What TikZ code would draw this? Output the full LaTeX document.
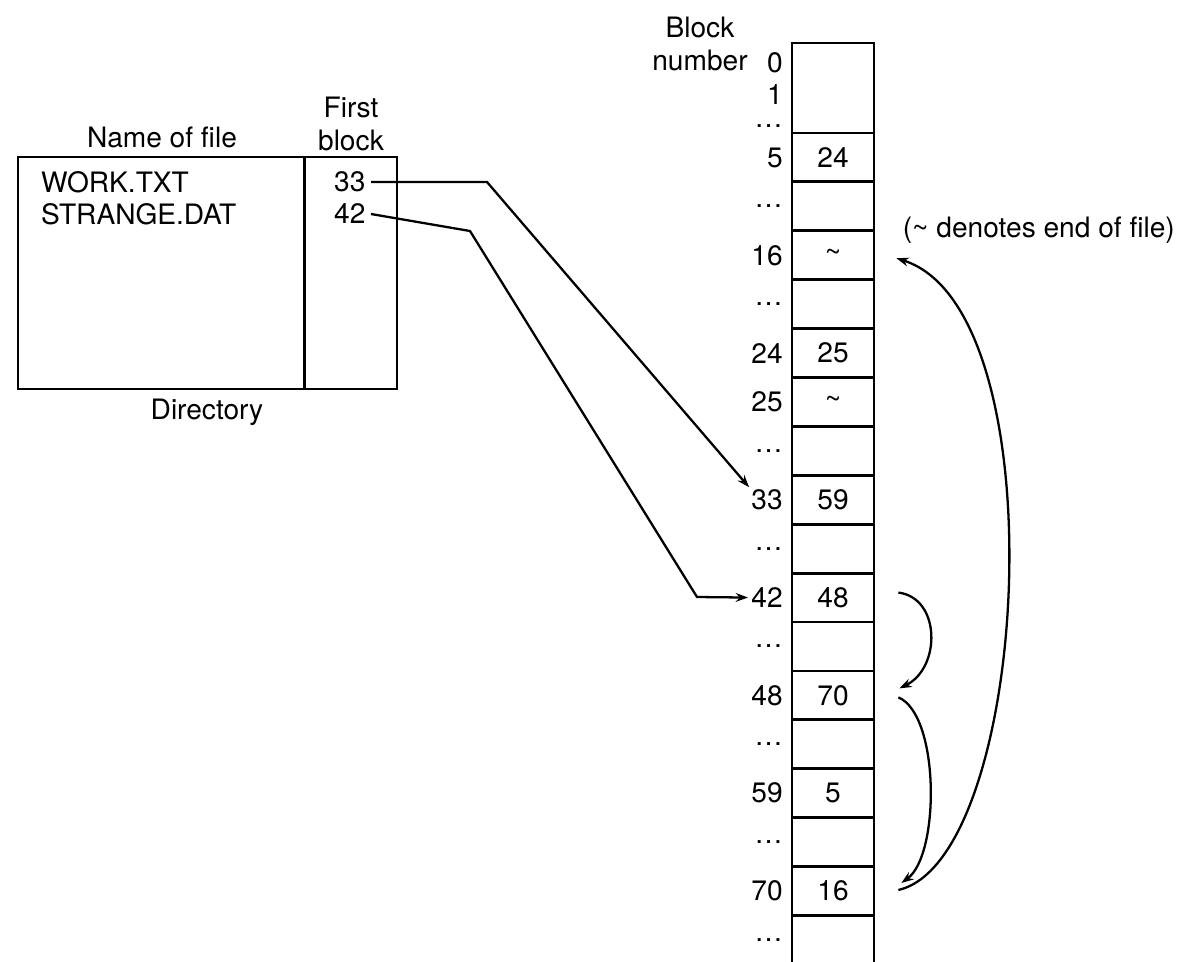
\documentclass[tikz,border=0pt]{standalone}
\usepackage{fontspec}
\setmainfont{TeX Gyre Heros}
\usetikzlibrary{positioning,arrows.meta,calc}

\begin{document}
\begin{tikzpicture}[x=0.02cm,y=-0.02cm,
  font=\fontsize{16}{19}\selectfont,
  cell/.style={draw,line width=1.6pt,minimum width=1.64cm,minimum height=0.978cm,inner sep=0pt},
  numlab/.style={anchor=east,inner sep=0pt},
  link/.style={-{Stealth[length=7pt,width=5pt]},line width=1.3pt}
]
\useasboundingbox (0,0) rectangle (1187,961);
\clip (0,0) rectangle (1187,961);

% Left: the directory
\node[draw,line width=1.6pt,minimum width=7.58cm,minimum height=4.64cm] (dir) at (207.5,273) {};
\draw[line width=1.6pt] ($(dir.north west)+(288,0)$) -- ($(dir.south west)+(288,0)$);
\node (namehead) at (162,137) {Name of file};
\node[align=center,inner sep=1pt] (firsthead) at (351,124) {First\\block};
\node (dirlabel) at (207,412) {Directory};
\node[anchor=west,inner sep=1pt] (work) at (39,182) {WORK.TXT};
\node[anchor=west,inner sep=1pt] (strange) at (39,214) {STRANGE.DAT};
\node[anchor=east,inner sep=3pt] (d33) at (371,182) {33};
\node[anchor=east,inner sep=3pt] (d42) at (371,214) {42};

% Right: the blocks of the disk
\node[align=center,inner sep=1pt] (blockhead) at (700,44) {Block\\number};
\node[cell,minimum height=1.8cm] (ctop) at (833,88) {};
\node[numlab] (lzero) at (783,63) {0};
\node[numlab] (lone) at (783,95) {1};
\node[numlab] (ltopdots) at (783,126) {\dots};
\foreach \lab/\val [count=\i from 0] in {5/24,{\dots}/{},16/\textasciitilde,{\dots}/{},24/25,25/\textasciitilde,
    {\dots}/{},33/59,{\dots}/{},42/48,{\dots}/{},48/70,{\dots}/{},59/5,{\dots}/{},70/16,{\dots}/{}}
{
  \node[cell] (c\i) at (833,{157.45+48.9*\i}) {\val};
  \node[numlab] (l\i) at (783,{157.45+48.9*\i}) {\lab};
}

\node[anchor=west,inner sep=2pt] (note) at (899,230) {(\textasciitilde{} denotes end of file)};

% first blocks of the two files
\draw[link] (d33.east) -- (487,182) -- ($(l7.north west)+(-2,-2)$);
\draw[link] (d42.east) -- (470,231) -- (697,597) -- ($(l9.west)+(-3,0)$);

% chain of STRANGE.DAT
\draw[link] ($(c9.east)+(23,-5)$) .. controls (941,598) and (941,668) .. ($(c11.east)+(24,-7)$);
\draw[link] ($(c11.east)+(23,2)$) .. controls (940,715) and (940,855) .. ($(c15.east)+(26,-8)$);
\draw[link] ($(c15.east)+(23,-1)$) .. controls (1030,860) and (1060,310) .. ($(c2.east)+(21,3)$);

\end{tikzpicture}
\end{document}
